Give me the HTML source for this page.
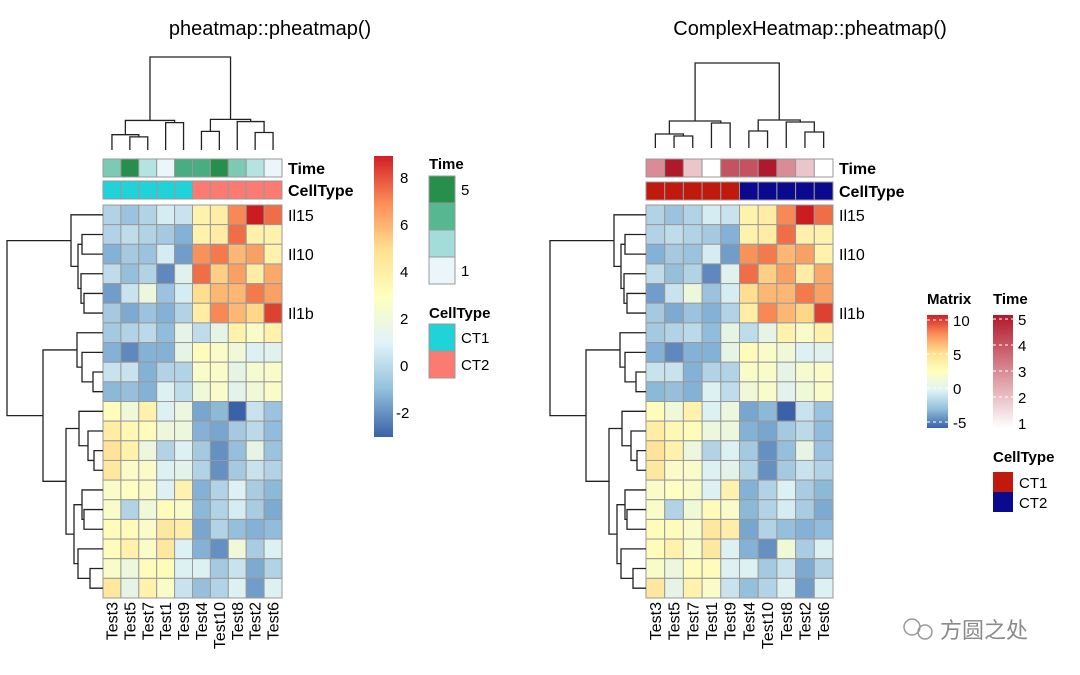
<!DOCTYPE html>
<html><head><meta charset="utf-8">
<style>
html,body{margin:0;padding:0;background:#fff;}
svg{display:block;font-family:"Liberation Sans","Noto Sans CJK SC",sans-serif;}
</style></head>
<body>
<svg id="chart" width="1080" height="675" viewBox="0 0 1080 675">
<text x="270" y="35" font-size="20" text-anchor="middle">pheatmap::pheatmap()</text>
<text x="810" y="35" font-size="20" text-anchor="middle">ComplexHeatmap::pheatmap()</text>
<g id="left"></g>
<g id="right"></g>
<defs>
<linearGradient id="gradL" x1="0" y1="1" x2="0" y2="0">
<stop offset="0" stop-color="#3b62a8"/><stop offset="0.167" stop-color="#91BFDB"/><stop offset="0.333" stop-color="#E0F3F8"/><stop offset="0.5" stop-color="#FFFFBF"/><stop offset="0.667" stop-color="#FEE090"/><stop offset="0.833" stop-color="#FC8D59"/><stop offset="1" stop-color="#D21F26"/>
</linearGradient>
<linearGradient id="gradT" x1="0" y1="1" x2="0" y2="0">
<stop offset="0" stop-color="#ffffff"/><stop offset="1" stop-color="#b2182b"/>
</linearGradient>
</defs>
<rect x="374" y="156" width="19" height="281" fill="url(#gradL)"/>
<g font-size="15">
<text x="400" y="183">8</text><text x="400" y="230">6</text><text x="400" y="277">4</text><text x="400" y="324">2</text><text x="400" y="371">0</text><text x="396" y="418">-2</text>
</g>
<text x="429" y="169" font-size="15" font-weight="bold">Time</text>
<g stroke="#999" stroke-width="1">
<rect x="429" y="176" width="26" height="27" fill="#268f4c"/>
<rect x="429" y="203" width="26" height="27" fill="#55b890"/>
<rect x="429" y="230" width="26" height="27" fill="#a3dcd8"/>
<rect x="429" y="257" width="26" height="27" fill="#eaf6fa"/>
</g>
<text x="461" y="195" font-size="15">5</text>
<text x="461" y="276" font-size="15">1</text>
<text x="429" y="318" font-size="15" font-weight="bold">CellType</text>
<rect x="429" y="324" width="26" height="27" fill="#1fd3d9" stroke="#999"/>
<rect x="429" y="351" width="26" height="27" fill="#fb7a72" stroke="#999"/>
<text x="461" y="343" font-size="15">CT1</text>
<text x="461" y="370" font-size="15">CT2</text>
<text x="927" y="304" font-size="15" font-weight="bold">Matrix</text>
<rect x="927" y="315" width="21" height="113" fill="url(#gradL)"/>
<g stroke="#fff" stroke-dasharray="3,3" stroke-width="1">
<line x1="927" x2="948" y1="320" y2="320"/><line x1="927" x2="948" y1="354" y2="354"/><line x1="927" x2="948" y1="388" y2="388"/><line x1="927" x2="948" y1="422" y2="422"/>
</g>
<g font-size="15">
<text x="953" y="326">10</text><text x="953" y="360">5</text><text x="953" y="394">0</text><text x="953" y="428">-5</text>
</g>
<text x="993" y="304" font-size="15" font-weight="bold">Time</text>
<rect x="993" y="315" width="20" height="113" fill="url(#gradT)"/>
<g stroke="#fff" stroke-dasharray="3,3" stroke-width="1">
<line x1="993" x2="1013" y1="319" y2="319"/><line x1="993" x2="1013" y1="345" y2="345"/><line x1="993" x2="1013" y1="371" y2="371"/><line x1="993" x2="1013" y1="397" y2="397"/>
</g>
<g font-size="15">
<text x="1018" y="325">5</text><text x="1018" y="351">4</text><text x="1018" y="377">3</text><text x="1018" y="403">2</text><text x="1018" y="429">1</text>
</g>
<text x="993" y="462" font-size="15" font-weight="bold">CellType</text>
<rect x="993" y="472" width="20" height="20" fill="#c0190e"/>
<rect x="993" y="492" width="20" height="20" fill="#0b0a8f"/>
<text x="1019" y="488" font-size="15">CT1</text>
<text x="1019" y="508" font-size="15">CT2</text>
<g>
<circle cx="912" cy="627" r="8" fill="none" stroke="#999" stroke-width="1.5"/>
<circle cx="925" cy="632" r="7" fill="none" stroke="#999" stroke-width="1.5"/>
<text x="940" y="638" font-size="22" fill="#8a8a8a">方圆之处</text>
</g>
</svg>
<script>
const colLabels = ["Test3","Test5","Test7","Test1","Test9","Test4","Test10","Test8","Test2","Test6"];
const timeValues = [3,5,2,1,4,4,5,3,2,1];
const cellTypes = [1,1,1,1,1,2,2,2,2,2];
const rowLabelNames = {0:"Il15",2:"Il10",5:"Il1b"};
const r1 = [0,-0.5,0,0.8,0.5,3.5,3.8,6.5,8.5,7];
const r2 = [0,0.3,0,-0.3,-1,3.5,3.8,7,3.6,3.5];
const r3 = [-1,-0.3,-0.5,0.8,-1.5,6.3,6.8,5.5,6,3.5];
const r4 = [0.3,-0.6,0,-2,1.2,7,5,6,3.8,5.8];
const r5 = [-1.5,0.5,1.8,-0.5,0.8,4.5,5.5,5.5,6.8,6];
const r6 = [-0.3,-1.2,-0.5,-1,0,3.8,6.5,5.5,4.8,7.8];
const r7 = [-0.3,0,0.2,-0.7,1.5,0.3,1.5,3.5,2.5,3.5];
const r8 = [-1,-2,-1,-1,1.5,3,2.5,2,1,1.2];
const r9 = [0.5,0.5,-1,0,0,2.5,2.5,1.5,2.3,2.5];
const r10 = [-0.8,-0.6,-1,1,0.3,2,2.5,1.3,2,2.5];
const r11 = [3,2,3.5,1,1.8,-1.3,-0.8,-3,0.5,-0.5];
const r12 = [3.8,3.2,3,1.8,1.8,-1,-1.3,-0.3,0.2,-0.7];
const r13 = [4.2,3.5,1.8,0,1,-0.3,-1.8,-0.6,1.5,-0.5];
const r14 = [4,2.5,2.5,1,1.3,0,-1.8,-0.3,0.5,0];
const r15 = [2.5,2.8,2.5,1,3.5,-1,0,1,-0.2,-0.8];
const r16 = [2.5,0,2,3,2.5,-0.8,0,0.8,-0.2,-1.2];
const r17 = [3,3,2.5,4,3.7,-1.3,0,-0.6,-1,-0.7];
const r18 = [3,3.5,2.5,4,1,-1,-1.8,2,-0.2,1];
const r19 = [2.5,1.8,3,3,1,1,-0.3,0.5,-1.2,0];
const r20 = [4,1.5,3.5,2.5,0.5,-0.6,0,1,-1.5,1];
const matrix = [r1,r2,r3,r4,r5,r6,r7,r8,r9,r10,r11,r12,r13,r14,r15,r16,r17,r18,r19,r20];
const rowTree = [96,[32,0,[25,[21,1,2],[22,3,[19,4,5]]]],[60,[26,6,[21,7,[10,8,9]]],[37,[24,10,[15,11,[9,12,13]]],[29,[21,14,[19,15,16]],[25,17,[13,18,19]]]]]];
const colTree = [85,[27,[14,0,[12,1,2]],[25,3,4]],[28,[17,5,6],[26,7,[16,8,9]]]];

const NS="http://www.w3.org/2000/svg";
const pal=["#3b62a8","#85b3d6","#dcf0f5","#FFFFBF","#fed98a","#f7804f","#c8161e"];
const vmin=-2.9, vmax=8.6;
function hex(c){return [1,3,5].map(i=>parseInt(c.substr(i,2),16));}
function interp(cols,t){t=Math.max(0,Math.min(1,t));const n=cols.length-1;const i=Math.min(n-1,Math.floor(t*n));const f=t*n-i;const a=hex(cols[i]),b=hex(cols[i+1]);return "rgb("+a.map((v,k)=>Math.round(v+(b[k]-v)*f)).join(",")+")";}
function valColor(v){return interp(pal,(v-vmin)/(vmax-vmin));}
function mk(tag,attrs,parent){const e=document.createElementNS(NS,tag);for(const k in attrs)e.setAttribute(k,attrs[k]);parent.appendChild(e);return e;}

function drawHeatmap(g,o){
  const nR=matrix.length,nC=colLabels.length;
  const cw=o.w/nC, rh=o.h/nR;
  const xs=i=>o.x+cw*i, ys=j=>o.y+rh*j;
  matrix.forEach((row,j)=>row.forEach((v,i)=>{
    const r=mk('rect',{x:xs(i),y:ys(j),width:cw,height:rh,fill:valColor(v),stroke:'#999','stroke-width':1},g);
    
    
  }));
  timeValues.forEach((t,i)=>{
    const r=mk('rect',{x:xs(i),y:o.tY,width:cw,height:o.aH,fill:o.timeColor(t),stroke:'#999','stroke-width':1},g);
    
    
    const c=mk('rect',{x:xs(i),y:o.cY,width:cw,height:o.aH,fill:o.ctColor[cellTypes[i]],stroke:'#999','stroke-width':1},g);
    
    
    const lb=mk('text',{transform:`translate(${xs(i)+cw/2+5.5},${o.y+o.h+4}) rotate(-90)`,'font-size':16,'text-anchor':'end'},g);
    lb.textContent=colLabels[i];
    
    
  });
  const at=mk('text',{x:o.x+o.w+6,y:o.tY+o.aH-3,'font-size':16,'font-weight':'bold'},g);
  at.textContent='Time';
  
  
  const ac=mk('text',{x:o.x+o.w+6,y:o.cY+o.aH-3,'font-size':16,'font-weight':'bold'},g);
  ac.textContent='CellType';
  
  
  for(const k in rowLabelNames){
    const t=mk('text',{x:o.x+o.w+6,y:ys(+k)+rh/2+6,'font-size':16},g);
    t.textContent=rowLabelNames[k];
    
    
  }
  let d='';
  function rowNode(n){ if(typeof n==='number') return {p:ys(n)+rh/2,x:o.x};
    const a=rowNode(n[1]),b=rowNode(n[2]); const x=o.x-n[0]*o.rScale;
    d+=`M${a.x},${a.p}H${x}V${b.p}H${b.x}`; return {p:(a.p+b.p)/2,x:x}; }
  rowNode(rowTree);
  const rp=mk('path',{d:d,fill:'none',stroke:'#222','stroke-width':1.3},g);
  
  
  let d2='';
  function colNode(n){ if(typeof n==='number') return {p:xs(n)+cw/2,y:o.leafY};
    const a=colNode(n[1]),b=colNode(n[2]); const y=o.leafY-n[0]*o.cScale;
    d2+=`M${a.p},${a.y}V${y}H${b.p}V${b.y}`; return {p:(a.p+b.p)/2,y:y}; }
  colNode(colTree);
  const cp=mk('path',{d:d2,fill:'none',stroke:'#222','stroke-width':1.3},g);
  
  
}
const greens=["#eaf6fa","#a3dcd8","#55b890","#268f4c"];
drawHeatmap(document.getElementById('left'),{x:103,y:205,w:179,h:393,tY:159,cY:181,aH:18,leafY:150,cScale:93/85,rScale:1,
  timeColor:t=>interp(greens,(t-1)/4),ctColor:{1:'#1fd3d9',2:'#fb7a72'}});
drawHeatmap(document.getElementById('right'),{x:646,y:205,w:187,h:393,tY:159,cY:182,aH:18,leafY:148,cScale:1,rScale:1,
  timeColor:t=>interp(["#ffffff","#b2182b"],(t-1)/4),ctColor:{1:'#c0190e',2:'#0b0a8f'}});
</script>
</body></html>
